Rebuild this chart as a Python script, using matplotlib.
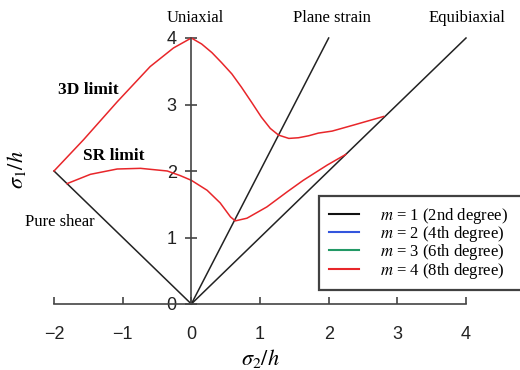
import matplotlib
matplotlib.use("Agg")
import matplotlib.pyplot as plt
from matplotlib.lines import Line2D

plt.rcParams['mathtext.fontset'] = 'stix'
plt.rcParams['font.family'] = ['Liberation Serif', 'DejaVu Serif']

# Reference loading paths (sigma2/h, sigma1/h)
plane_x = [0, 2]
plane_y = [0, 4]
equi_x = [0, 4]
equi_y = [0, 4]
shear_x = [0, -2]
shear_y = [0, 2]

# 3D limit curve (m = 4)
lim3d_x = [-2.0, -1.57, -1.08, -0.60, -0.26, 0.0, 0.15, 0.30, 0.44, 0.59, 0.73,
           0.88, 1.02, 1.15, 1.27, 1.42, 1.56, 1.71, 1.85, 2.05, 2.36, 2.80]
lim3d_y = [2.0, 2.47, 3.04, 3.57, 3.85, 4.0, 3.91, 3.78, 3.63, 3.46, 3.26,
           3.03, 2.81, 2.64, 2.54, 2.49, 2.50, 2.53, 2.57, 2.60, 2.69, 2.82]

# SR limit curve (m = 4)
limsr_x = [-1.81, -1.47, -1.08, -0.74, -0.35, -0.16, 0.0, 0.23, 0.42, 0.57, 0.64,
           0.81, 1.10, 1.40, 1.63, 1.98, 2.25]
limsr_y = [1.81, 1.95, 2.03, 2.04, 2.00, 1.93, 1.86, 1.71, 1.52, 1.31, 1.25,
           1.29, 1.46, 1.69, 1.86, 2.09, 2.25]

xticks = [-2, -1, 0, 1, 2, 3, 4]
yticks = [0, 1, 2, 3, 4]

legend_labels = [r'$m$ = 1 (2nd degree)', r'$m$ = 2 (4th degree)',
                 r'$m$ = 3 (6th degree)', r'$m$ = 4 (8th degree)']
legend_colors = ['#111111', '#3355dd', '#229966', '#e8262a']

W, H = 520, 370
fig = plt.figure(figsize=(W / 100, H / 100), dpi=100)
# axes placement: x=-2 -> px 54, x=4 -> px 466 ; y=0 -> py 304, y=4 -> py 38
ppx = (466 - 54) / 6.0
ppy = (304 - 38) / 4.0
xl = (-2.5, 4.8)
yl = (-0.5, 4.5)
left_px = 54 - (-2 - xl[0]) * ppx
width_px = (xl[1] - xl[0]) * ppx
top_py = 38 - (yl[1] - 4) * ppy
height_px = (yl[1] - yl[0]) * ppy
ax = fig.add_axes([left_px / W, 1 - (top_py + height_px) / H, width_px / W, height_px / H])
ax.set_xlim(*xl)
ax.set_ylim(*yl)
ax.patch.set_visible(False)

axis_col = '#444444'
for s in ['top', 'right']:
    ax.spines[s].set_visible(False)
ax.spines['left'].set_position(('data', 0))
ax.spines['left'].set_bounds(0, 4)
ax.spines['bottom'].set_position(('data', 0))
ax.spines['bottom'].set_bounds(-2, 4)
for s in ['left', 'bottom']:
    ax.spines[s].set_color(axis_col)
    ax.spines[s].set_linewidth(1.2)

ax.set_xticks(xticks)
ax.set_yticks(yticks)
ax.set_xticklabels([str(t).replace('-', '\u2212') for t in xticks])
ax.set_yticklabels([str(t) for t in yticks])
ax.tick_params(axis='x', direction='in', length=5, width=1.2, color=axis_col, pad=16)
ax.tick_params(axis='y', direction='inout', length=9, width=1.2, color=axis_col, pad=6)
for lab in ax.get_xticklabels() + ax.get_yticklabels():
    lab.set_fontfamily('Liberation Sans')
    lab.set_fontsize(13)
    lab.set_color('#222222')

blk = '#222222'
ax.plot(plane_x, plane_y, color=blk, lw=1.1)
ax.plot(equi_x, equi_y, color=blk, lw=1.1)
ax.plot(shear_x, shear_y, color=blk, lw=1.1)

red = '#e8262a'
ax.plot(lim3d_x, lim3d_y, color=red, lw=1.1)
ax.plot(limsr_x, limsr_y, color=red, lw=1.1)

def px2d(px, py):
    return ((px - 54) / ppx - 2, (304 - py) / ppy)

def ftext(px, py, s, **kw):
    x, y = px2d(px, py)
    ax.text(x, y, s, ha='center', va='center', **kw)

ftext(195, 18, 'Uniaxial', fontsize=12)
ftext(332, 18, 'Plane strain', fontsize=12)
ftext(467, 18, 'Equibiaxial', fontsize=12)
ftext(88, 90, '3D limit', fontsize=12.5, fontweight='bold')
ftext(114, 156, 'SR limit', fontsize=12.5, fontweight='bold')
ftext(60, 222, 'Pure shear', fontsize=12)

fig.text(260 / W, 1 - 358 / H, r'$\sigma_2/h$', ha='center', va='center', fontsize=16)
fig.text(17 / W, 1 - 170 / H, r'$\sigma_1/h$', ha='center', va='center', fontsize=16,
         rotation=90)

handles = [Line2D([], [], color=c, lw=1.5) for c in legend_colors]
leg_top = 1 - 196 / H
leg_h = 92 / H
leg = fig.legend(handles, legend_labels, loc='upper left', mode='expand',
                 bbox_to_anchor=(319 / W, leg_top - leg_h, 212 / W, leg_h),
                 borderaxespad=0,
                 fontsize=12, frameon=True, fancybox=False, handlelength=1.8,
                 handletextpad=1.25, labelspacing=-0.1, borderpad=0.58)
leg.get_frame().set_edgecolor('#111111')
leg.get_frame().set_linewidth(1.6)

fig.savefig('out.png', dpi=100)
